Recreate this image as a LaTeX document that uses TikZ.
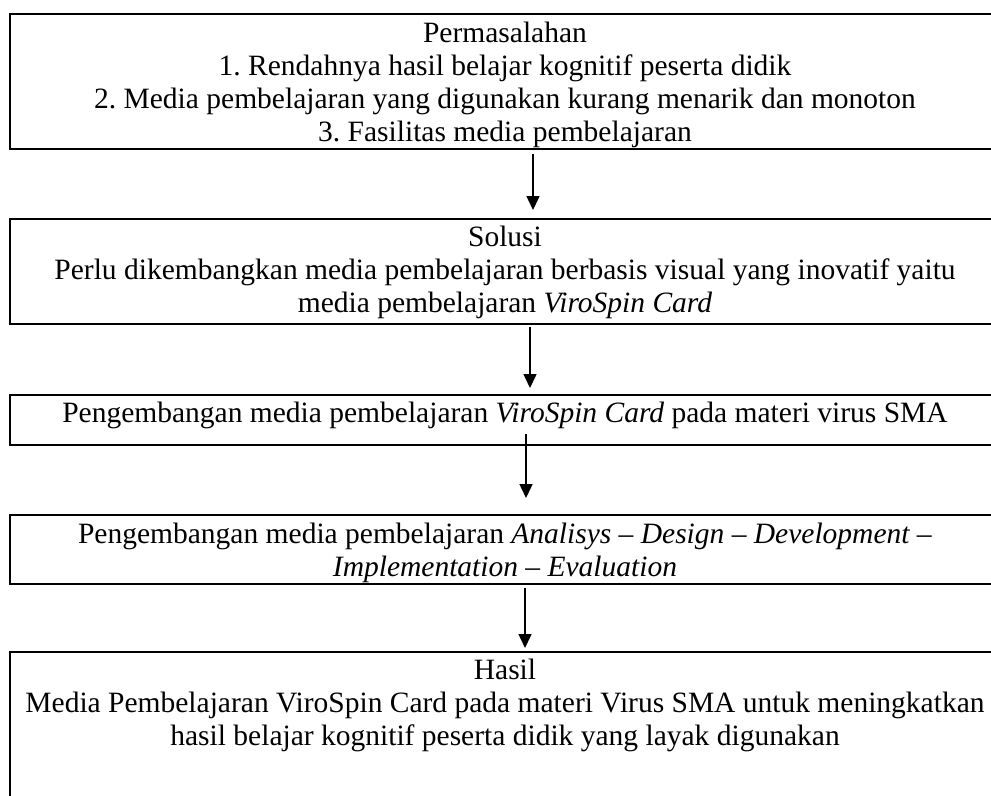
\documentclass[tikz,border=0pt]{standalone}
\usepackage{fontspec}
\setmainfont{Liberation Serif}
\usetikzlibrary{arrows.meta}
\frenchspacing

\begin{document}
\begin{tikzpicture}[
        x=0.4pt, y=-0.4pt,
        box/.style={rectangle, draw, line width=0.8pt, minimum width=396pt, inner ysep=0pt, anchor=north, align=center, font=\fontsize{11.8}{13.2}\selectfont},
        line/.style={draw, line width=0.6pt, -{Triangle[width=5.2pt,length=5.6pt]}}
    ]
        \useasboundingbox (0,0) rectangle (991,795);
        \clip (0,0) rectangle (991,795);

        % the rules set the room above the first line and below the last one
        \node[box] (masalah) at (505, 13) {\rule{0pt}{11.2pt}Permasalahan\\ 1. Rendahnya hasil belajar kognitif peserta didik\\ 2. Media pembelajaran yang digunakan kurang menarik dan monoton\\ 3. Fasilitas media pembelajaran\rule[-3.2pt]{0pt}{0pt}};
        \node[box] (solusi) at (505, 218) {\rule{0pt}{10.8pt}Solusi\\ Perlu dikembangkan media pembelajaran berbasis visual yang inovatif yaitu\\ media pembelajaran \textit{ViroSpin Card}\rule[-4.8pt]{0pt}{0pt}};
        \node[box] (kembang) at (505, 394) {\rule[-9.2pt]{0pt}{20pt}Pengembangan media pembelajaran \textit{ViroSpin Card} pada materi virus SMA};
        \node[box] (addie) at (505, 514) {\rule{0pt}{11.2pt}Pengembangan media pembelajaran \textit{Analisys -- Design -- Development --}\\ \textit{Implementation -- Evaluation}\rule[-3.2pt]{0pt}{0pt}};
        \node[box] (hasil) at (505, 651) {\rule{0pt}{10.8pt}Hasil\\ Media Pembelajaran ViroSpin Card pada materi Virus SMA untuk meningkatkan\\ hasil belajar kognitif peserta didik yang layak digunakan\rule[-30pt]{0pt}{0pt}};

        \draw[line] ([xshift=11.2pt, yshift=-1.6pt]masalah.south) -- ([xshift=11.2pt, yshift=3.2pt]solusi.north);
        \draw[line] ([xshift=10pt, yshift=-0.8pt]solusi.south) -- ([xshift=10pt, yshift=2.4pt]kembang.north);
        \draw[line] ([xshift=8.4pt, yshift=4.8pt]kembang.south) -- ([xshift=8.4pt, yshift=6.4pt]addie.north);
        \draw[line] ([xshift=8pt, yshift=-1.2pt]addie.south) -- ([xshift=8pt, yshift=1.2pt]hasil.north);
    \end{tikzpicture}
\end{document}
